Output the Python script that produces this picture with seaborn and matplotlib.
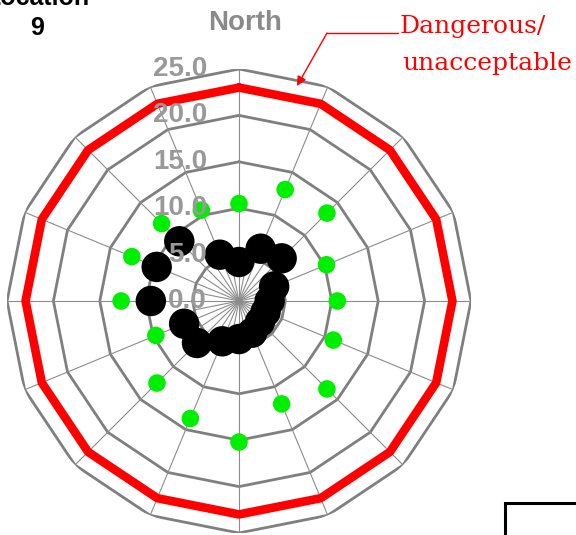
import numpy as np
import seaborn as sns
import matplotlib.pyplot as plt
from matplotlib.transforms import offset_copy
from matplotlib.patches import Rectangle

# 16 compass directions, clockwise from North
directions = ['N', 'NNE', 'NE', 'ENE', 'E', 'ESE', 'SE', 'SSE',
              'S', 'SSW', 'SW', 'WSW', 'W', 'WNW', 'NW', 'NNW']
green_vals = [10.5, 13.0, 13.4, 10.2, 10.6, 11.0, 13.4, 12.0,
              15.2, 13.7, 12.5, 9.7, 12.7, 12.5, 11.8, 10.6]
black_vals = [4.2, 6.1, 6.5, 4.1, 3.3, 3.1, 3.2, 3.7,
              4.1, 4.7, 6.4, 6.4, 9.5, 9.6, 9.1, 5.4]
limit_vals = [23.0, 23.0, 23.0, 23.0, 23.0, 23.0, 23.0, 23.0,
              23.0, 23.0, 23.0, 23.0, 23.0, 23.0, 23.0, 23.0]
ring_levels = [0, 5, 10, 15, 20, 25]
ring_labels = ['0.0', '5.0', '10.0', '15.0', '20.0', '25.0']

sns.set_style('white')
plt.rcParams['font.family'] = ['Liberation Sans', 'DejaVu Sans']

W, H = 576, 535
fig = plt.figure(figsize=(W / 100, H / 100), dpi=100)
ax = fig.add_axes([7 / W, 2 / H, 464 / W, 464 / H], projection='polar')
ax.set_theta_zero_location('N')
ax.set_theta_direction(-1)
ax.set_ylim(0, 25)
ax.grid(False)
ax.spines['polar'].set_visible(False)
ax.set_xticks([])
ax.set_yticks([])

n = len(directions)
angles = np.deg2rad(np.arange(n) * 360 / n)
closed = np.append(angles, angles[0] + 2 * np.pi)

# polygon gridlines and spokes
for lvl in ring_levels[1:]:
    ax.plot(closed, [lvl] * (n + 1), color='#7f7f7f', lw=2.0, zorder=1)
for a in angles:
    ax.plot([a, a], [0, 25], color='#8c8c8c', lw=0.8, zorder=1)
for a in angles + np.pi / n:
    ax.plot([a, a], [0, 5], color='#8c8c8c', lw=0.8, zorder=1)

# limit line
sns.lineplot(x=closed, y=limit_vals + [limit_vals[0]], sort=False, estimator=None,
             color='red', lw=6.2, ax=ax, zorder=2)

sns.scatterplot(x=angles, y=green_vals, color='#00ee00', s=160, edgecolor='none',
                ax=ax, zorder=3)
sns.scatterplot(x=angles, y=black_vals, color='black', s=480, edgecolor='none',
                ax=ax, zorder=4)

# radial labels
lab_tr = offset_copy(ax.transData, fig=fig, x=-32, y=0, units='dots')
for lvl, lab in zip(ring_levels, ring_labels):
    ax.text(0, lvl, lab, transform=lab_tr, ha='right', va='center',
            fontsize=20, fontweight='bold', color='#999999', zorder=6)

ax.set_xlabel('')
ax.set_ylabel('')

fig.text(245 / W, 1 - 30 / H, 'North', ha='center', va='baseline',
         fontsize=20, fontweight='bold', color='#8a8a8a')
fig.text(37 / W, 1 - 5 / H, 'Location', ha='center', va='baseline',
         fontsize=18, fontweight='bold', color='black')
fig.text(37 / W, 1 - 35 / H, '9', ha='center', va='baseline',
         fontsize=18, fontweight='bold', color='black')

# annotation
fig.text(400 / W, 1 - 33 / H, 'Dangerous/', ha='left', va='baseline',
         fontsize=18, color='red', family='DejaVu Serif')
fig.text(402 / W, 1 - 70 / H, 'unacceptable', ha='left', va='baseline',
         fontsize=18, color='red', family='DejaVu Serif')
fig.add_artist(plt.Line2D([327 / W, 398 / W], [1 - 33 / H, 1 - 33 / H],
                          transform=fig.transFigure, color='red', lw=1))
ax.annotate('', xy=(297, H - 86), xytext=(327, H - 33),
            xycoords='figure pixels', textcoords='figure pixels',
            arrowprops=dict(arrowstyle='-|>', color='red', lw=1, mutation_scale=14,
                            shrinkA=0, shrinkB=0),
            annotation_clip=False)

# partial legend box in the corner
fig.add_artist(Rectangle((505 / W, -0.05), 0.2, (535 - 503) / H + 0.05,
                         transform=fig.transFigure, fill=False, lw=2.2,
                         ec='black', clip_on=False))

plt.savefig('out.png', dpi=100)
